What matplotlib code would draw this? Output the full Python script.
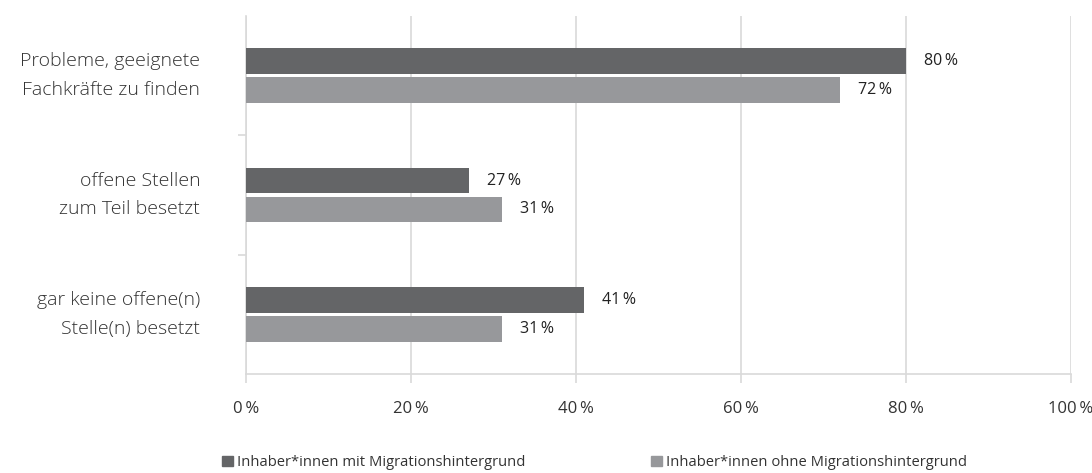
import matplotlib.pyplot as plt
from matplotlib.patches import Patch
from matplotlib.ticker import FixedLocator

plt.rcParams['font.family'] = ['Open Sans', 'DejaVu Sans']

# data
categories = ['Probleme, geeignete\nFachkräfte zu finden',
              'offene Stellen\nzum Teil besetzt',
              'gar keine offene(n)\nStelle(n) besetzt']
mit_migration = [80, 27, 41]
ohne_migration = [72, 31, 31]
series_names = ['Inhaber*innen mit Migrationshintergrund',
                'Inhaber*innen ohne Migrationshintergrund']
xticks = [0, 20, 40, 60, 80, 100]

dark = '#646567'
light = '#97989b'
grid = '#d9d9d9'
txt = '#333333'
thin = '\u2009'

fig = plt.figure(figsize=(10.92, 4.73), dpi=100)
ax = fig.add_axes([0.2253, 0.2093, 0.7555, 0.7569])

ys = list(range(len(categories)))
h = 0.215
off = 0.121
b1 = ax.barh([y - off for y in ys], mit_migration, height=h, color=dark, zorder=3)
b2 = ax.barh([y + off for y in ys], ohne_migration, height=h, color=light, zorder=3)

for bars, vals in ((b1, mit_migration), (b2, ohne_migration)):
    for bar, v in zip(bars, vals):
        ax.annotate(f'{v}{thin}%', (bar.get_width(), bar.get_y() + bar.get_height() / 2),
                    xytext=(13, 0), textcoords='offset points', va='center', ha='left',
                    fontsize=11.5, color='#222222')

ax.set_xlim(0, 100)
ax.set_ylim(2.5, -0.5)
ax.set_xticks(xticks)
ax.set_xticklabels([f'{t}{thin}%' for t in xticks])
ax.xaxis.grid(True, color=grid, linewidth=1.2, zorder=0)
ax.tick_params(axis='x', length=6.5, width=1.2, color=grid, pad=13, labelsize=12,
               labelcolor=txt)

ax.set_yticks(ys)
ax.set_yticklabels(categories, fontweight='light', va='center')
ax.tick_params(axis='y', which='major', length=0, pad=33, labelsize=14, labelcolor=txt)
for lab in ax.get_yticklabels():
    lab.set_linespacing(1.75)
ax.yaxis.set_minor_locator(FixedLocator([0.5, 1.5]))
ax.tick_params(axis='y', which='minor', length=6, width=1.2, color=grid)

for s in ('top', 'right'):
    ax.spines[s].set_visible(False)
for s in ('left', 'bottom'):
    ax.spines[s].set_color(grid)
    ax.spines[s].set_linewidth(1.2)

for color, name, x in ((dark, series_names[0], 0.203), (light, series_names[1], 0.596)):
    fig.legend(handles=[Patch(color=color, label=name)], loc='center left',
               bbox_to_anchor=(x, 0.022), frameon=False, fontsize=10.6,
               handlelength=0.75, handleheight=0.75, handletextpad=0.3,
               labelcolor=txt, borderpad=0, borderaxespad=0)

fig.savefig('out.png', dpi=100)
